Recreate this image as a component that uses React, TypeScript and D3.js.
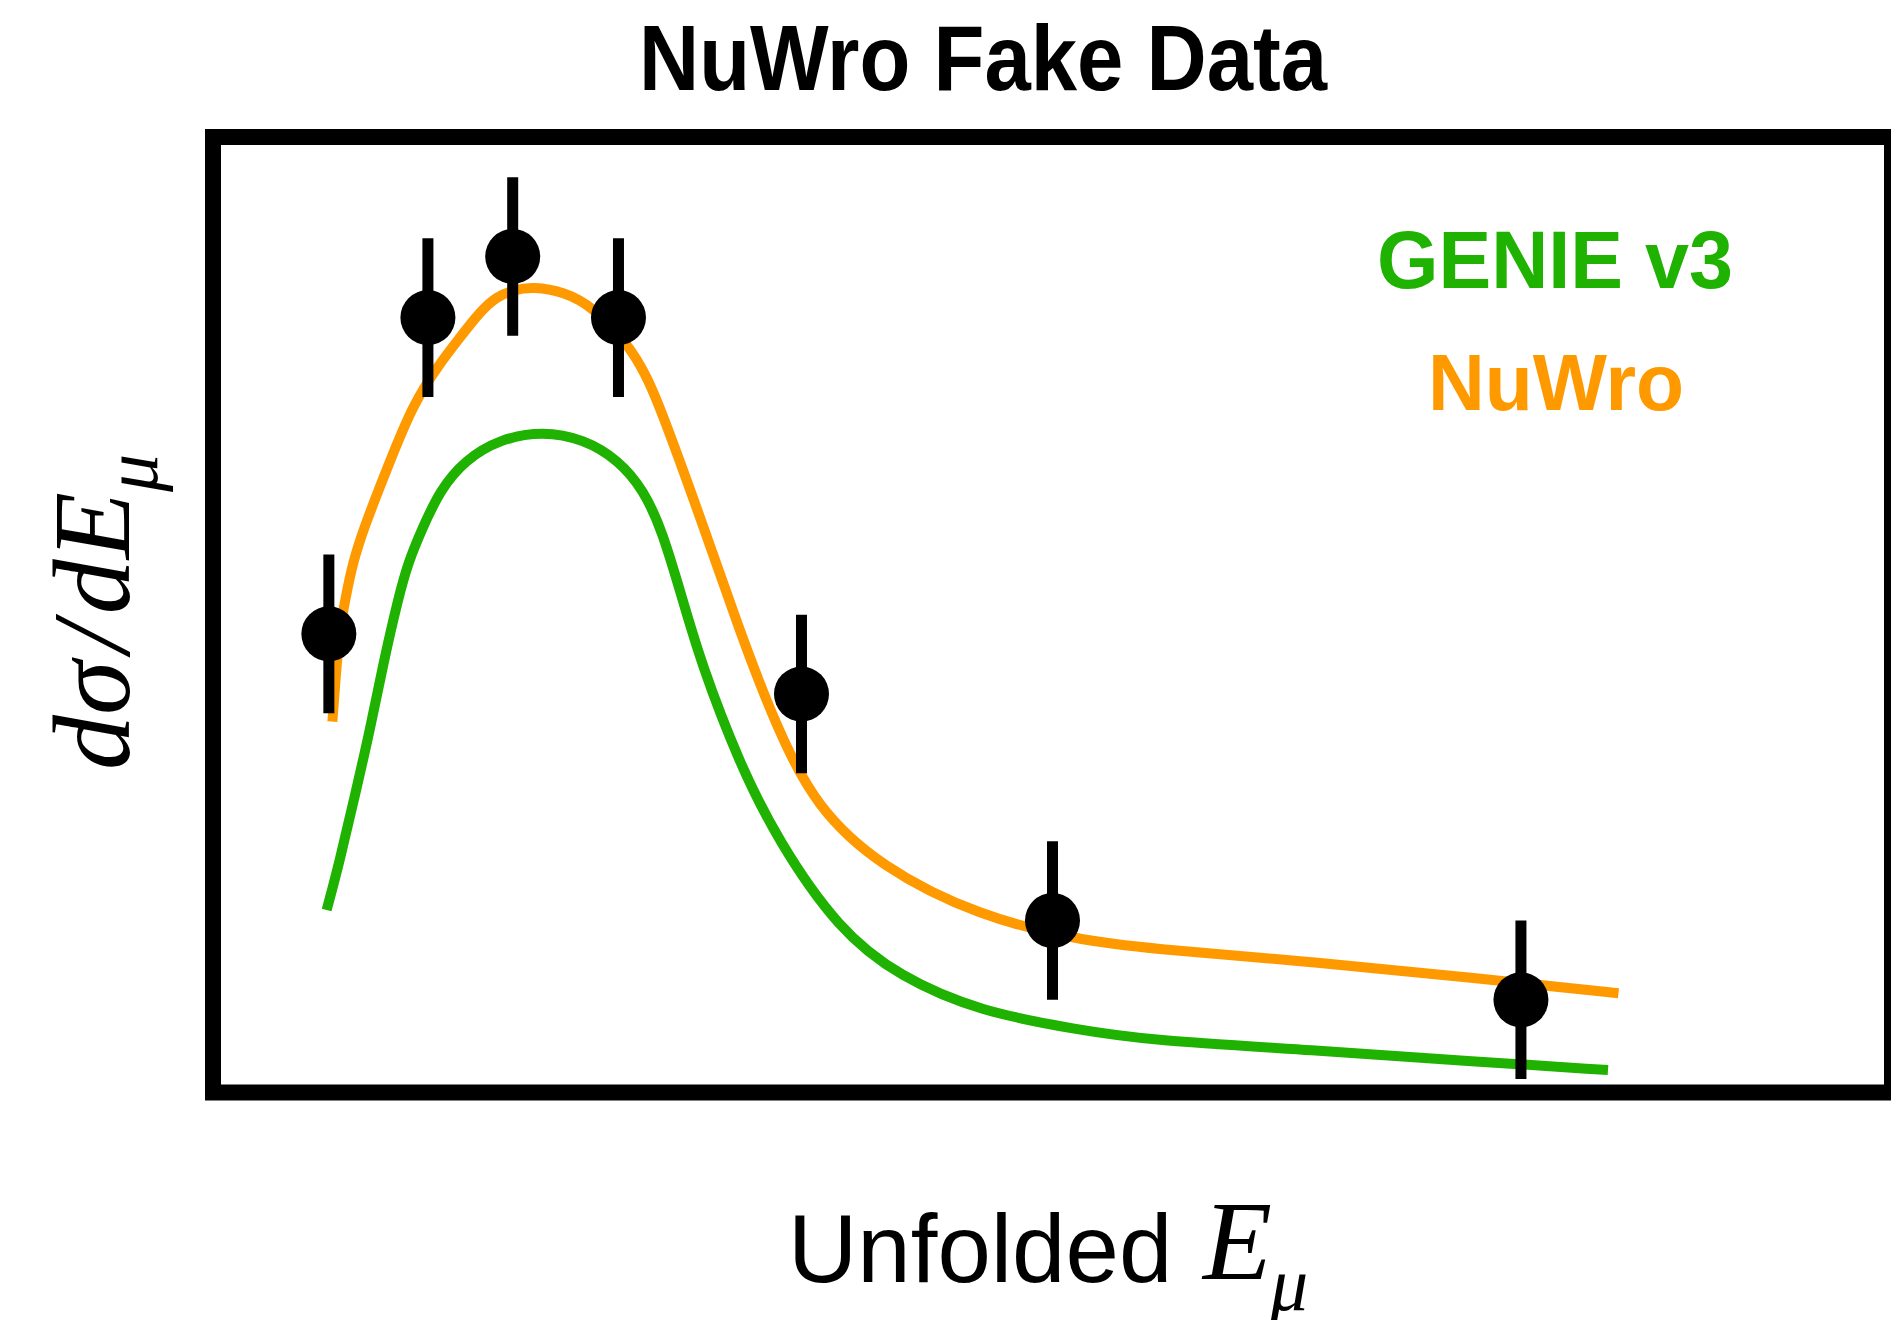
import React from "react";
import * as d3 from "d3";

// ---- data (arbitrary units) ----
const pointE = [0.138, 0.256, 0.357, 0.483, 0.701, 1.0, 1.558];
const pointXS = [0.48, 0.811, 0.875, 0.811, 0.417, 0.18, 0.097];
const pointErr = [0.083, 0.083, 0.083, 0.083, 0.083, 0.083, 0.083];

const nuwroE = [
  0.1422, 0.1459, 0.1507, 0.1582, 0.1664, 0.1787, 0.2085, 0.2386, 0.2704, 0.2903,
  0.318, 0.3379, 0.3577, 0.3815, 0.4173, 0.453, 0.4967, 0.5166, 0.5325, 0.5858,
  0.6268, 0.6724, 0.7181, 0.7945, 0.9136, 1.0322, 1.1111, 1.3088, 1.5063, 1.6742,
];
const nuwroXS = [
  0.3881, 0.4317, 0.484, 0.5189, 0.5538, 0.5887, 0.6557, 0.7213, 0.7632, 0.7858,
  0.8172, 0.8329, 0.8399, 0.8433, 0.8381, 0.8224, 0.7805, 0.7491, 0.7177, 0.5887,
  0.484, 0.3794, 0.2991, 0.2363, 0.184, 0.1596, 0.1509, 0.1369, 0.1195, 0.1038,
];

const genieE = [
  0.1354, 0.1504, 0.1687, 0.187, 0.2029, 0.2211, 0.2323, 0.2485, 0.2704, 0.3002,
  0.3419, 0.3927, 0.4413, 0.483, 0.5128, 0.5348, 0.5584, 0.5813, 0.6268, 0.6724,
  0.7453, 0.8183, 0.9136, 1.0328, 1.1111, 1.3088, 1.5063, 1.6617,
];
const genieXS = [
  0.191, 0.2402, 0.3096, 0.3794, 0.4495, 0.5189, 0.5542, 0.5887, 0.6306, 0.662,
  0.6839, 0.6923, 0.6839, 0.662, 0.6306, 0.5887, 0.5189, 0.4495, 0.3448, 0.2643,
  0.1701, 0.1209, 0.0846, 0.0654, 0.0549, 0.0445, 0.0322, 0.0235,
];

const titleText = "NuWro Fake Data";
const legendLabels = ["GENIE v3", "NuWro"];

const ORANGE = "#FF9900";
const GREEN = "#1FB200";

const W = 1891;
const H = 1320;

export default function App() {
  const xScale = d3.scaleLinear().domain([0, 2]).range([213, 1892]);
  const yScale = d3.scaleLinear().domain([0, 1]).range([1092.5, 137]);

  const line = d3
    .line<[number, number]>()
    .x((d) => xScale(d[0]))
    .y((d) => yScale(d[1]))
    .curve(d3.curveBasis);

  const nuwroPath = line(nuwroE.map((e, i) => [e, nuwroXS[i]]) as [number, number][]) || "";
  const geniePath = line(genieE.map((e, i) => [e, genieXS[i]]) as [number, number][]) || "";

  const [x0, x1] = xScale.range();
  const [y0, y1] = yScale.range();

  const serif = "'Liberation Serif', 'Times New Roman', serif";
  const sans = "'Liberation Sans', Arial, sans-serif";

  return (
    <svg
      width={W}
      height={H}
      viewBox={`0 0 ${W} ${H}`}
      style={{ position: "absolute", left: 0, top: 0, background: "#fff" }}
    >
      <rect x={0} y={0} width={W} height={H} fill="#fff" />
      {/* Title */}
      <text
        x={983}
        y={90}
        textAnchor="middle"
        fontFamily={sans}
        fontWeight="bold"
        fontSize={93}
        textLength={688}
        lengthAdjust="spacingAndGlyphs"
        fill="#000"
      >
        {titleText}
      </text>

      {/* Curves */}
      <path d={geniePath} fill="none" stroke={GREEN} strokeWidth={10} strokeLinecap="butt" />
      <path d={nuwroPath} fill="none" stroke={ORANGE} strokeWidth={10} strokeLinecap="butt" />

      {/* Data points */}
      {pointE.map((e, i) => (
        <g key={i}>
          <line
            x1={xScale(e)}
            x2={xScale(e)}
            y1={yScale(pointXS[i] - pointErr[i])}
            y2={yScale(pointXS[i] + pointErr[i])}
            stroke="#000"
            strokeWidth={11}
          />
          <circle cx={xScale(e)} cy={yScale(pointXS[i])} r={27.5} fill="#000" />
        </g>
      ))}

      {/* Frame */}
      <rect
        x={x0}
        y={y1}
        width={x1 - x0}
        height={y0 - y1}
        fill="none"
        stroke="#000"
        strokeWidth={16}
      />

      {/* Legend */}
      <text
        x={1555}
        y={288}
        textAnchor="middle"
        fontFamily={sans}
        fontWeight="bold"
        fontSize={82}
        textLength={356}
        lengthAdjust="spacingAndGlyphs"
        fill={GREEN}
      >
        {legendLabels[0]}
      </text>
      <text
        x={1556}
        y={410}
        textAnchor="middle"
        fontFamily={sans}
        fontWeight="bold"
        fontSize={80}
        textLength={256}
        lengthAdjust="spacingAndGlyphs"
        fill={ORANGE}
      >
        {legendLabels[1]}
      </text>

      {/* X axis label */}
      <text x={788} y={1282} fontFamily={sans} fontSize={96} fill="#000">
        Unfolded
      </text>
      <text x={1203} y={1279} fontFamily={serif} fontStyle="italic" fontSize={113} fill="#000">
        E
      </text>
      <text x={1270} y={1310} fontFamily={serif} fontStyle="italic" fontSize={76} fill="#000">
        μ
      </text>

      {/* Y axis label */}
      <g transform="translate(129, 770) rotate(-90)">
        <text x={0} y={0} fontFamily={serif} fontStyle="italic" fontSize={110} fill="#000">
          <tspan>dσ</tspan>
          <tspan dx={8}>/</tspan>
          <tspan dx={8}>dE</tspan>
          <tspan fontSize={76} dy={28}>
            μ
          </tspan>
        </text>
      </g>
    </svg>
  );
}
